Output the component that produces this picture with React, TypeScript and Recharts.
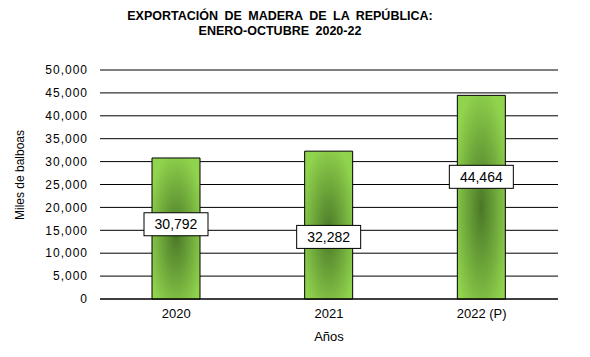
import { BarChart, Bar, XAxis, YAxis, CartesianGrid, LabelList } from "recharts"

const years = ["2020", "2021", "2022 (P)"]
const exports = [30792, 32282, 44464]
const yTicks = [0, 5000, 10000, 15000, 20000, 25000, 30000, 35000, 40000, 45000, 50000]

// where the value box sits, as a share of the bar height (placed by hand in the original)
const labelHeights = [0.53, 0.42, 0.6]

const data = years.map((year, i) => ({ year, value: exports[i] }))

const fmt = (v: number) => v.toLocaleString("en-US")

const font = "'Liberation Sans', Arial, sans-serif"

function ValueBox(props: any) {
  const { x, y, width, height, index, value } = props
  const cx = x + width / 2
  const cy = y + height * (1 - labelHeights[index])
  const w = 64
  const h = 23
  return (
    <g>
      <rect x={cx - w / 2} y={cy - h / 2} width={w} height={h} fill="#fff" stroke="#000" strokeWidth={1} />
      <text x={cx} y={cy} textAnchor="middle" dominantBaseline="central" fontSize={14} fontFamily={font} fill="#000">
        {fmt(value)}
      </text>
    </g>
  )
}

export default function App() {
  return (
    <div style={{ position: "absolute", left: 0, top: 0, width: 590, height: 357, background: "#fff", fontFamily: font }}>
      <div style={{ position: "absolute", top: 9, left: 0, width: 560, textAlign: "center", fontWeight: "bold", fontSize: 12.5, lineHeight: "15px", wordSpacing: 3, color: "#000" }}>
        EXPORTACIÓN DE MADERA DE LA REPÚBLICA:
        <br />
        ENERO-OCTUBRE 2020-22
      </div>
      <div style={{ position: "absolute", left: 20, top: 175, transform: "translate(-50%, -50%) rotate(-90deg)", fontSize: 12, whiteSpace: "nowrap", color: "#000" }}>
        Miles de balboas
      </div>
      <div style={{ position: "absolute", left: 329, top: 336, transform: "translate(-50%, -50%)", fontSize: 13, color: "#000" }}>
        Años
      </div>
      <BarChart width={590} height={357} data={data} margin={{ top: 70, right: 32, bottom: 0, left: 0 }} barSize={48}>
        <defs>
          <radialGradient id="greenGlow" cx="0.5" cy="0.55" r="0.6">
            <stop offset="0%" stopColor="#4a7827" />
            <stop offset="100%" stopColor="#90d34d" />
          </radialGradient>
        </defs>
        <CartesianGrid vertical={false} stroke="#000" strokeWidth={1} />
        <XAxis
          dataKey="year"
          height={58}
          axisLine={{ stroke: "#000" }}
          tickLine={false}
          tickMargin={4}
          tick={{ fill: "#000", fontSize: 13, fontFamily: font }}
        />
        <YAxis
          width={100}
          domain={[0, 50000]}
          ticks={yTicks}
          interval={0}
          axisLine={false}
          tickLine={false}
          tickMargin={6}
          tickFormatter={fmt}
          tick={{ fill: "#000", fontSize: 12, fontFamily: font, letterSpacing: 1 }}
        />
        <Bar dataKey="value" fill="url(#greenGlow)" stroke="#000" strokeWidth={1} isAnimationActive={false}>
          <LabelList dataKey="value" content={ValueBox} />
        </Bar>
      </BarChart>
    </div>
  )
}
